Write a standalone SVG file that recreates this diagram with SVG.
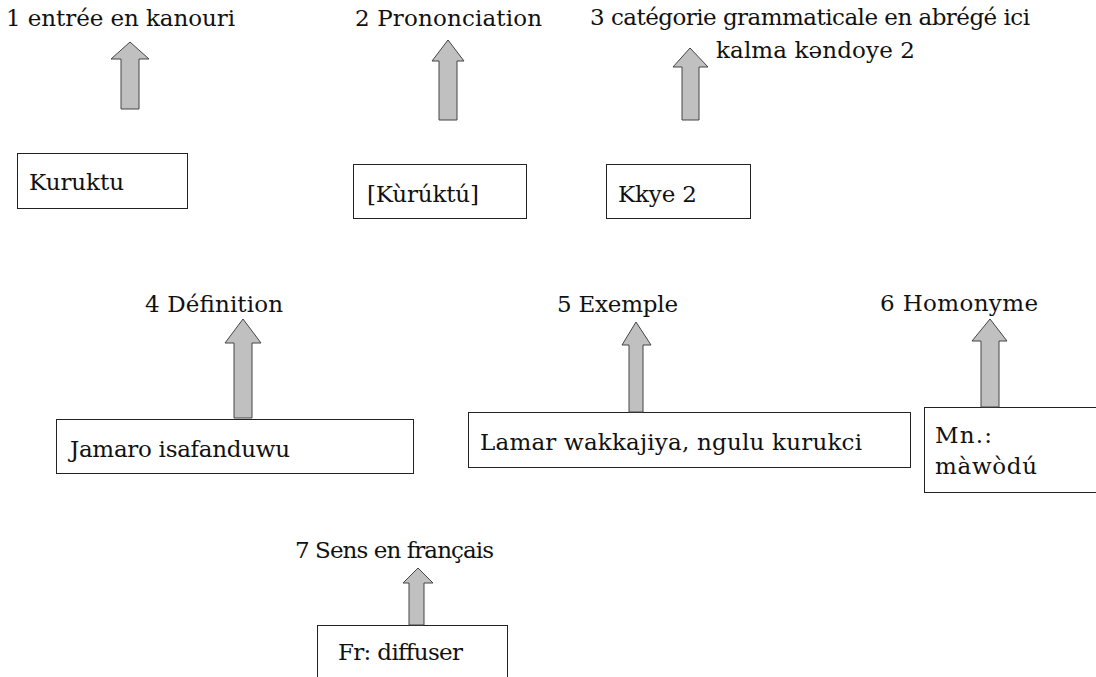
<svg xmlns="http://www.w3.org/2000/svg" width="1096" height="677" viewBox="0 0 1096 677">
<style>
text{font-family:"DejaVu Serif","Liberation Serif",serif;font-size:23px;fill:#111}
.box{fill:#fff;stroke:#222;stroke-width:1}
.arr{fill:#c0c0c0;stroke:#444;stroke-width:1;stroke-linejoin:miter}
</style>
<rect width="1096" height="677" fill="#fff"/>
<g id="node1">
<text x="6" y="26" textLength="229" lengthAdjust="spacing">1 entrée en kanouri</text>
<rect class="box" x="17.5" y="153.5" width="170" height="55"/>
<text x="29" y="190" textLength="95" lengthAdjust="spacing">Kuruktu</text>
</g>
<g id="node2">
<text x="355" y="26" textLength="187" lengthAdjust="spacing">2 Prononciation</text>
<rect class="box" x="353.5" y="164.5" width="173" height="54"/>
<text x="367" y="202" textLength="112" lengthAdjust="spacing">[Kùrúktú]</text>
</g>
<g id="node3">
<text x="590" y="25" textLength="440" lengthAdjust="spacing">3 catégorie grammaticale en abrégé ici</text>
<text x="716" y="58" textLength="199" lengthAdjust="spacing">kalma kəndoye 2</text>
<rect class="box" x="606.5" y="164.5" width="144" height="54"/>
<text x="618" y="202" textLength="79" lengthAdjust="spacing">Kkye 2</text>
</g>
<g id="node4">
<text x="145" y="312" textLength="138" lengthAdjust="spacing">4 Définition</text>
<rect class="box" x="56.5" y="419.5" width="357" height="54"/>
<text x="70" y="457" textLength="220" lengthAdjust="spacing">Jamaro isafanduwu</text>
</g>
<g id="node5">
<text x="557" y="312" textLength="121" lengthAdjust="spacing">5 Exemple</text>
<rect class="box" x="468.5" y="412.5" width="442" height="55"/>
<text x="480" y="450" textLength="382" lengthAdjust="spacing">Lamar wakkajiya, ngulu kurukci</text>
</g>
<g id="node6">
<text x="880" y="311" textLength="158" lengthAdjust="spacing">6 Homonyme</text>
<rect class="box" x="924.5" y="407.5" width="200" height="85"/>
<text x="935" y="443" textLength="57" lengthAdjust="spacing">Mn.:</text>
<text x="935" y="474" textLength="102" lengthAdjust="spacing">màwòdú</text>
</g>
<g id="node7">
<text x="295" y="558" textLength="199" lengthAdjust="spacing">7 Sens en français</text>
<rect class="box" x="317.5" y="625.5" width="190" height="80"/>
<text x="338" y="660" textLength="125" lengthAdjust="spacing">Fr: diffuser</text>
</g>
<g id="connectors">
<polygon class="arr" points="130,42 149,59 139,59 139,109 121,109 121,59 111,59"/>
<polygon class="arr" points="448,40 464,61 457,61 457,120 439,120 439,61 432,61"/>
<polygon class="arr" points="690,48 708,67 699,67 699,120 682,120 682,67 673,67"/>
<polygon class="arr" points="243,319 261,343 252,343 252,418 234,418 234,343 225,343"/>
<polygon class="arr" points="636,322 651,345 643,345 643,412 629,412 629,345 622,345"/>
<polygon class="arr" points="990,319 1007,341 999,341 999,407 981,407 981,341 972,341"/>
<polygon class="arr" points="418,568 433,583 424,583 424,625 409,625 409,583 403,583"/>
</g>
</svg>
